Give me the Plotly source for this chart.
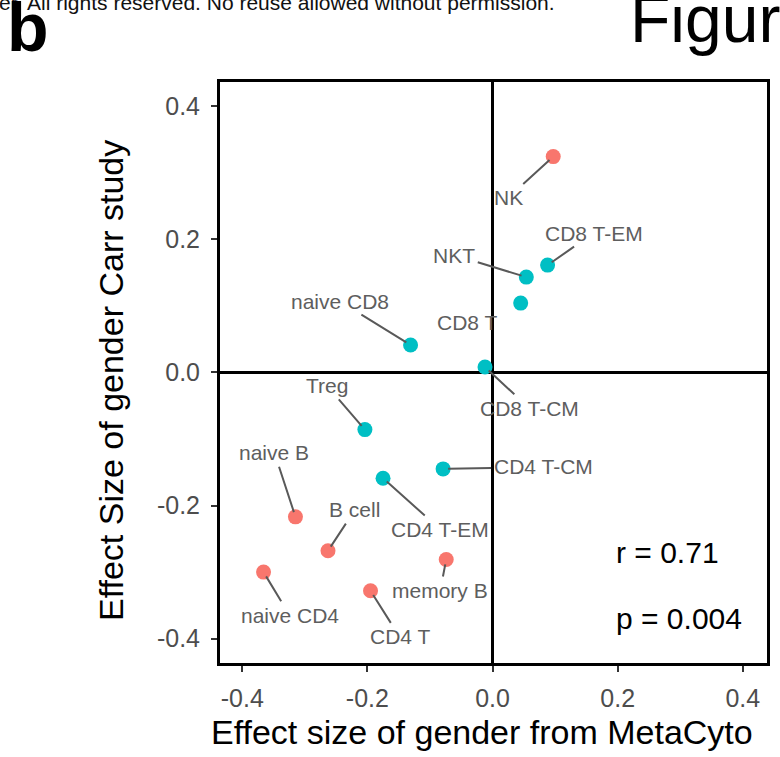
import plotly.graph_objects as go

# Effect size of gender per cell population
cell_types = ["NK", "CD8 T-EM", "NKT", "CD8 T", "CD8 T-CM", "naive CD8", "Treg",
              "CD4 T-CM", "CD4 T-EM", "naive B", "B cell", "memory B", "naive CD4", "CD4 T"]
metacyto_effect = [0.097, 0.088, 0.054, 0.045, -0.012, -0.131, -0.204,
                   -0.079, -0.175, -0.315, -0.263, -0.074, -0.366, -0.195]
carr_effect = [0.324, 0.161, 0.143, 0.104, 0.008, 0.041, -0.086,
               -0.145, -0.159, -0.217, -0.268, -0.281, -0.300, -0.328]
group = ["A", "B", "B", "B", "B", "B", "B",
         "B", "B", "A", "A", "A", "A", "A"]

tick_vals = [-0.4, -0.2, 0.0, 0.2, 0.4]
tick_text = ["-0.4", "-0.2", "0.0", "0.2", "0.4"]

r_text = "r = 0.71"
p_text = "p = 0.004"

# label placement (pixel offsets of each label from its point) and leader visibility
label_offsets = {
    "NK": (-45, 41, True), "CD8 T-EM": (46, -32, True), "NKT": (-72, -22, True),
    "CD8 T": (-54, 19, False), "CD8 T-CM": (44, 41, True), "naive CD8": (-71, -44, True),
    "Treg": (-38, -44, True), "CD4 T-CM": (100, -2, True), "CD4 T-EM": (57, 51, True),
    "naive B": (-21, -64, True), "B cell": (27, -41, True), "memory B": (-6, 31, True),
    "naive CD4": (26, 43, True), "CD4 T": (29, 46, True),
}

W, H = 780, 757
ML, MR, MT, MB = 220, 13, 82, 94
FONT = "Liberation Sans, Arial, Helvetica, sans-serif"
colors = {"A": "#F8766D", "B": "#00BFC4"}


def px_to_paper(px, py):
    return (px - ML) / (W - ML - MR), (H - MB - py) / (H - MT - MB)


fig = go.Figure()
for g in ["A", "B"]:
    idx = [i for i, v in enumerate(group) if v == g]
    fig.add_trace(go.Scatter(
        x=[metacyto_effect[i] for i in idx],
        y=[carr_effect[i] for i in idx],
        mode="markers",
        marker=dict(size=15, color=colors[g], line=dict(width=0)),
        hoverinfo="skip", showlegend=False,
    ))

annotations = []
for name, xv, yv in zip(cell_types, metacyto_effect, carr_effect):
    ax, ay, seg = label_offsets[name]
    if seg:
        annotations.append(dict(
            x=xv, y=yv, xref="x", yref="y", text=name, showarrow=True,
            ax=ax, ay=ay, arrowhead=0, arrowwidth=2, arrowcolor="#595959",
            standoff=5, startstandoff=1,
            font=dict(family=FONT, size=21, color="#5E5E5E"),
        ))
    else:
        annotations.append(dict(
            x=xv, y=yv, xref="x", yref="y", text=name, showarrow=False,
            xshift=ax, yshift=-ay,
            font=dict(family=FONT, size=21, color="#5E5E5E"),
        ))

# correlation statistics
annotations.append(dict(x=0.194, y=-0.271, xref="x", yref="y", text=r_text,
                        showarrow=False, xanchor="left", yanchor="middle",
                        font=dict(family=FONT, size=30, color="black")))
annotations.append(dict(x=0.194, y=-0.370, xref="x", yref="y", text=p_text,
                        showarrow=False, xanchor="left", yanchor="middle",
                        font=dict(family=FONT, size=30, color="black")))

# axis titles
tx, ty = px_to_paper(482, 732)
annotations.append(dict(x=tx, y=ty, xref="paper", yref="paper",
                        text="Effect size of gender from MetaCyto", showarrow=False,
                        xanchor="center", yanchor="middle",
                        font=dict(family=FONT, size=34, color="black")))
tx, ty = px_to_paper(111, 381)
annotations.append(dict(x=tx, y=ty, xref="paper", yref="paper",
                        text="Effect Size of gender Carr study", showarrow=False,
                        textangle=-90, xanchor="center", yanchor="middle",
                        font=dict(family=FONT, size=34, color="black")))

# page furniture
tx, ty = px_to_paper(-3, 3)
annotations.append(dict(x=tx, y=ty, xref="paper", yref="paper",
                        text="er. All rights reserved. No reuse allowed without permission.",
                        showarrow=False, xanchor="left", yanchor="middle",
                        font=dict(family=FONT, size=21, color="#111111")))
tx, ty = px_to_paper(5, 27)
annotations.append(dict(x=tx, y=ty, xref="paper", yref="paper", text="<b>b</b>",
                        showarrow=False, xanchor="left", yanchor="middle",
                        font=dict(family=FONT, size=68, color="black")))
tx, ty = px_to_paper(628, 19)
annotations.append(dict(x=tx, y=ty, xref="paper", yref="paper", text="Figure",
                        showarrow=False, xanchor="left", yanchor="middle",
                        font=dict(family=FONT, size=66, color="black")))

axis_common = dict(
    showgrid=False, zeroline=True, zerolinecolor="black", zerolinewidth=2.5,
    showline=True, linecolor="black", linewidth=3, mirror=True,
    ticks="outside", ticklen=6, tickwidth=2, tickcolor="#333333",
    tickvals=tick_vals, ticktext=tick_text,
    tickfont=dict(family=FONT, size=25, color="#4D4D4D"),
)

fig.update_layout(
    width=W, height=H,
    margin=dict(l=ML, r=MR, t=MT, b=MB, autoexpand=False),
    paper_bgcolor="white", plot_bgcolor="white",
    xaxis=dict(range=[-0.4356, 0.4387], ticklabelstandoff=5, **axis_common),
    yaxis=dict(range=[-0.4365, 0.436], ticklabelstandoff=6, **axis_common),
    annotations=annotations,
    showlegend=False,
)

fig.write_html("out.html")
